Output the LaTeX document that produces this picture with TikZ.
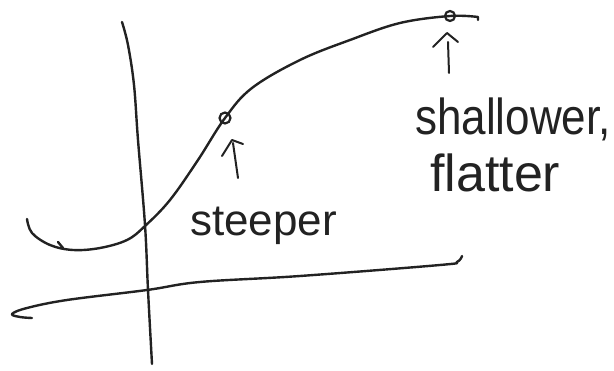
\documentclass[tikz,border=0pt]{standalone}
\usepackage{fontspec}
\setmainfont{Liberation Sans}
\definecolor{ink}{HTML}{222222}
\tikzset{
  pen/.style={draw=ink, line width=2.4pt, line cap=round, line join=round},
  thinpen/.style={draw=ink, line width=2pt, line cap=round, line join=round},
  hand/.style={inner sep=0pt, text=ink, font=\fontsize{44}{50}\selectfont},
  handbig/.style={inner sep=0pt, text=ink, font=\fontsize{52}{58}\selectfont},
  ring/.style={circle, draw=ink, line width=2.2pt, inner sep=0pt, minimum size=11pt},
}
\begin{document}
\begin{tikzpicture}[x=1pt, y=-1pt]
\useasboundingbox (0,0) rectangle (614,371);
% y-axis
\draw[pen] plot[smooth, tension=0.6] coordinates {(122,22) (128,45) (134,85) (138,140) (145,225) (148,290) (152,364)};
% x-axis
\draw[pen] plot[smooth, tension=0.6] coordinates {(462,256) (457,262) (440,265) (300,276) (200,282) (147,290) (67,300) (27,308) (12,314) (20,317) (32,318)};
% curve
\draw[pen] plot[smooth, tension=0.6] coordinates {(27,219) (32,233) (50,245) (73,250) (100,248) (127,240) (145,226) (170,200) (198,160) (225,118) (252,88) (300,60) (350,40) (400,23) (450,16) (478,17)} -- (478,20);
\draw[pen] (58,242) -- (63,248);
% marked points
\node[ring] (p1) at (225,118) {};
\node[ring, minimum size=10pt] (p2) at (450,16) {};
% labels
\node[hand, anchor=base west] (steep) at (190,236) {steeper};
\node[hand, anchor=base west] (shallow) at (415,135) {\scalebox{1}[1.15]{shallower,}};
\node[handbig, anchor=base west] (flat) at (430,192) {flatter};
% arrows (hand-drawn carets)
\coordinate (a1s) at (238,178);
\coordinate (a1e) at (233,143);
\coordinate (a1l) at (222,156);
\coordinate (a1t) at (232,140);
\coordinate (a1r) at (243,144);
\coordinate (a2s) at (449,73);
\coordinate (a2e) at (448,42);
\coordinate (a2l) at (433,47);
\coordinate (a2t) at (447,33);
\coordinate (a2r) at (458,42);
\draw[thinpen] (a1s) -- (a1e);
\draw[thinpen] (a1l) -- (a1t) -- (a1r);
\draw[thinpen] (a2s) -- (a2e);
\draw[thinpen] (a2l) -- (a2t) -- (a2r);
\end{tikzpicture}
\end{document}
